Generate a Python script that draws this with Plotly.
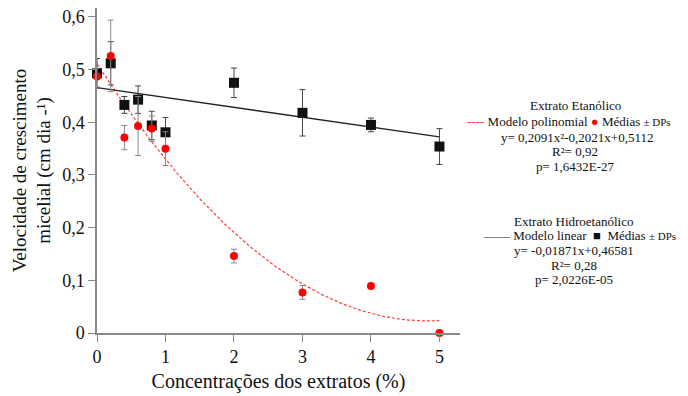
import plotly.graph_objects as go

# ---- data ----
conc = [0, 0.2, 0.4, 0.6, 0.8, 1.0, 2, 3, 4, 5]

# Extrato Etanólico (red circles)
etan_mean = [0.487, 0.526, 0.371, 0.393, 0.388, 0.350, 0.146, 0.077, 0.089, 0.0]
etan_sd = [0.02, 0.068, 0.023, 0.056, 0.024, 0.032, 0.013, 0.013, 0.0, 0.0]

# Extrato Hidroetanólico (black squares)
hidro_mean = [0.493, 0.512, 0.433, 0.443, 0.394, 0.381, 0.475, 0.418, 0.395, 0.354]
hidro_sd = [0.028, 0.041, 0.016, 0.026, 0.027, 0.028, 0.028, 0.044, 0.013, 0.034]

# model coefficients
poly_a, poly_b, poly_c = 0.02091, -0.2021, 0.5112
lin_b, lin_c = -0.01871, 0.46581

x_ticks = [0, 1, 2, 3, 4, 5]
y_ticks = [0, 0.1, 0.2, 0.3, 0.4, 0.5, 0.6]
y_ticktext = ["0", "0,1", "0,2", "0,3", "0,4", "0,5", "0,6"]

# model curves
n = 101
xs = [5 * i / (n - 1) for i in range(n)]
poly_y = [poly_a * x * x + poly_b * x + poly_c for x in xs]
lin_x = [0, 5]
lin_y = [lin_b * x + lin_c for x in lin_x]

FONT = "Liberation Serif, Times New Roman, DejaVu Serif, serif"

fig = go.Figure()
fig.add_trace(go.Scatter(x=xs, y=poly_y, mode="lines",
                         line=dict(color="#ff3b3b", width=1.2, dash="3px,2px"),
                         showlegend=False, hoverinfo="skip"))
fig.add_trace(go.Scatter(x=lin_x, y=lin_y, mode="lines",
                         line=dict(color="#222", width=1.3),
                         showlegend=False, hoverinfo="skip"))
fig.add_trace(go.Scatter(x=conc, y=hidro_mean, mode="markers",
                         marker=dict(symbol="square", size=10, color="#111"),
                         error_y=dict(type="data", array=hidro_sd, color="#444",
                                      thickness=1, width=3),
                         cliponaxis=False, showlegend=False))
fig.add_trace(go.Scatter(x=conc, y=etan_mean, mode="markers",
                         marker=dict(symbol="circle", size=8, color="#ff0000"),
                         error_y=dict(type="data", array=etan_sd, color="#888",
                                      thickness=1, width=3),
                         cliponaxis=False, showlegend=False))

axis_common = dict(showline=True, linecolor="#888", linewidth=1.5, ticks="outside",
                   ticklen=7, tickcolor="#888", tickwidth=1.2, showgrid=False,
                   zeroline=False, tickfont=dict(family=FONT, size=18, color="#111"))

fig.update_xaxes(range=[0, 5.3], tickvals=x_ticks, **axis_common,
                 title=dict(text="Concentrações dos extratos (%)",
                            font=dict(family=FONT, size=20, color="#111"), standoff=8))
fig.update_yaxes(range=[0, 0.617], tickvals=y_ticks, ticktext=y_ticktext, **axis_common,
                 title=dict(text="Velocidade de crescimento<br>micelial (cm dia -¹)",
                            font=dict(family=FONT, size=19, color="#111"), standoff=6))

def py(p):
    return (337 - p) / 330

def px(p):
    return (p - 97) / 363

ann = [
    ("Extrato Etanólico", 575, 106),
    ("<span style='color:#ff3b3b'>----</span> Modelo polinomial "
     "<span style='color:#ff0000'>●</span> Médias <span style='font-size:11px'>± DPs</span>", 569, 122),
    ("y= 0,2091x²-0,2021x+0,5112", 577, 138),
    ("R²= 0,92", 575, 153),
    ("p= 1,6432E-27", 575, 168),
    ("Extrato Hidroetanólico", 574, 224),
    ("—— Modelo linear  ■  Médias <span style='font-size:11px'>± DPs</span>", 579, 238.5),
    ("y= -0,01871x+0,46581", 574, 253),
    ("R²= 0,28", 574, 268),
    ("p= 2,0226E-05", 574, 282.5),
]
for text, x, y in ann:
    fig.add_annotation(text=text, x=px(x), y=py(y), xref="paper", yref="paper",
                       xanchor="center", yanchor="middle", showarrow=False,
                       font=dict(family=FONT, size=13, color="#111"))

fig.update_layout(width=688, height=396, margin=dict(l=97, r=228, t=7, b=59),
                  plot_bgcolor="white", paper_bgcolor="white",
                  font=dict(family=FONT))

fig.write_html("out.html", config={"displayModeBar": False},
               post_script="document.body.style.margin='0';document.body.style.padding='0';")
